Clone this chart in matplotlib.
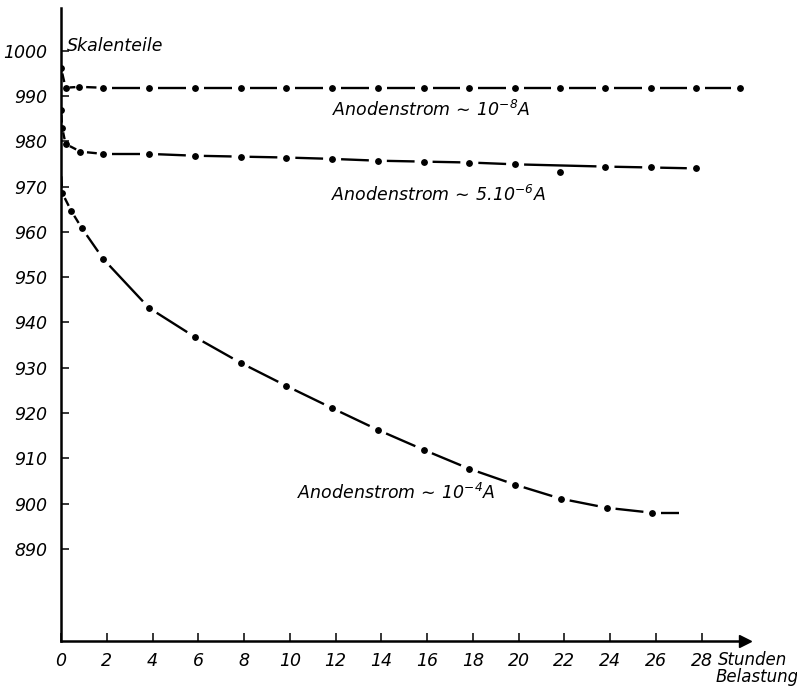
import matplotlib
matplotlib.use("Agg")
import matplotlib.pyplot as plt
import numpy as np

# --- data (hours of load vs. scale divisions) ---
top_x = [0.0, 0.2, 0.8, 1.85, 3.85, 5.85, 7.85, 9.85, 11.85, 13.85, 15.85,
         17.85, 19.85, 21.8, 23.8, 25.8, 27.75, 29.7]
top_y = [996.2, 991.8, 992.0, 991.8, 991.8, 991.8, 991.8, 991.8, 991.8, 991.8,
         991.8, 991.8, 991.8, 991.8, 991.8, 991.8, 991.8, 991.8]

mid_x = [0.0, 0.05, 0.2, 0.85, 1.85, 3.85, 5.85, 7.85, 9.85, 11.85, 13.85,
         15.85, 17.85, 19.85, 23.8, 25.8, 27.75]
mid_y = [986.9, 983.0, 979.4, 977.7, 977.2, 977.2, 976.8, 976.6, 976.4, 976.1,
         975.7, 975.5, 975.3, 974.9, 974.4, 974.2, 974.0]
mid_out_x = [21.8]
mid_out_y = [973.3]

low_x = [0.0, 0.05, 0.45, 0.9, 1.85, 3.85, 5.85, 7.85, 9.85, 11.85, 13.85,
         15.85, 17.85, 19.85, 21.85, 23.85, 25.85, 27.4]
low_y = [973.7, 968.6, 964.6, 960.9, 954.0, 943.2, 936.8, 931.1, 926.0, 921.1,
         916.3, 911.9, 907.7, 904.2, 901.1, 899.1, 898.0, 898.0]

x_ticks = list(range(0, 30, 2))
y_ticks = list(range(890, 1001, 10))

labels = [r"Anodenstrom$\,\sim\,$10$^{-8}$A",
          r"Anodenstrom$\,\sim\,$5.10$^{-6}$A",
          r"Anodenstrom$\,\sim\,$10$^{-4}$A"]

plt.rcParams["font.family"] = "DejaVu Sans"
plt.rcParams["font.style"] = "italic"
plt.rcParams["mathtext.fontset"] = "custom"
plt.rcParams["mathtext.rm"] = "DejaVu Sans:italic"
plt.rcParams["mathtext.it"] = "DejaVu Sans:italic"
plt.rcParams["mathtext.default"] = "it"

fig = plt.figure(figsize=(7.97, 6.88), dpi=100)
ax = fig.add_axes([61 / 797, 1 - 641 / 688, 684 / 797, 633 / 688])
ax.set_xlim(0, 29.9)
ax.set_ylim(869.7, 1009.4)

for s in ("top", "right"):
    ax.spines[s].set_visible(False)
for s in ("left", "bottom"):
    ax.spines[s].set_linewidth(1.8)

ax.set_xticks(x_ticks)
ax.set_yticks(y_ticks)
ax.tick_params(direction="in", length=6, width=1.1, labelsize=12.5)
ax.tick_params(axis="y", pad=10)
ax.tick_params(axis="x", pad=8)
for lab in ax.get_xticklabels() + ax.get_yticklabels():
    lab.set_fontstyle("italic")

# arrow head on time axis
ax.plot(1, 869.7, ">", color="black", markersize=9, clip_on=False,
        transform=ax.get_yaxis_transform())


def dash_dot(ax, x, y, gap=9.0, lw=1.7):
    """Long dashes between data points, leaving a gap around each dot."""
    pts = ax.transData.transform(np.column_stack([x, y]))
    inv = ax.transData.inverted()
    for p, q in zip(pts[:-1], pts[1:]):
        d = q - p
        L = np.hypot(*d)
        g = min(gap, L / 3.5)
        if L < 6:
            continue
        u = d / L
        a, b = inv.transform([p + u * g, q - u * g])
        ax.plot([a[0], b[0]], [a[1], b[1]], color="black", lw=lw,
                solid_capstyle="butt")


dash_dot(ax, top_x, top_y)
ax.plot(top_x, top_y, "o", color="black", markersize=3.9)

dash_dot(ax, mid_x, mid_y)
ax.plot(mid_x, mid_y, "o", color="black", markersize=3.9)
ax.plot(mid_out_x, mid_out_y, "o", color="black", markersize=3.9)

dash_dot(ax, low_x, low_y)
ax.plot(low_x[1:-1], low_y[1:-1], "o", color="black", markersize=3.9)

# texts
ax.text(0.25, 1001.0, "Skalenteile", fontsize=12.5, style="italic",
        ha="left", va="center")
ax.text(11.85, 986.8, labels[0], fontsize=12.5, ha="left", va="center")
ax.text(11.8, 968.2, labels[1], fontsize=12.5, ha="left", va="center")
ax.text(10.3, 902.4, labels[2], fontsize=12.5, ha="left", va="center")
ax.text(28.7, 865.6, "Stunden", fontsize=12, style="italic",
        ha="left", va="center", clip_on=False)
ax.text(28.6, 861.8, "Belastung", fontsize=12, style="italic",
        ha="left", va="center", clip_on=False)

fig.savefig("out.png", dpi=100, facecolor="white")
